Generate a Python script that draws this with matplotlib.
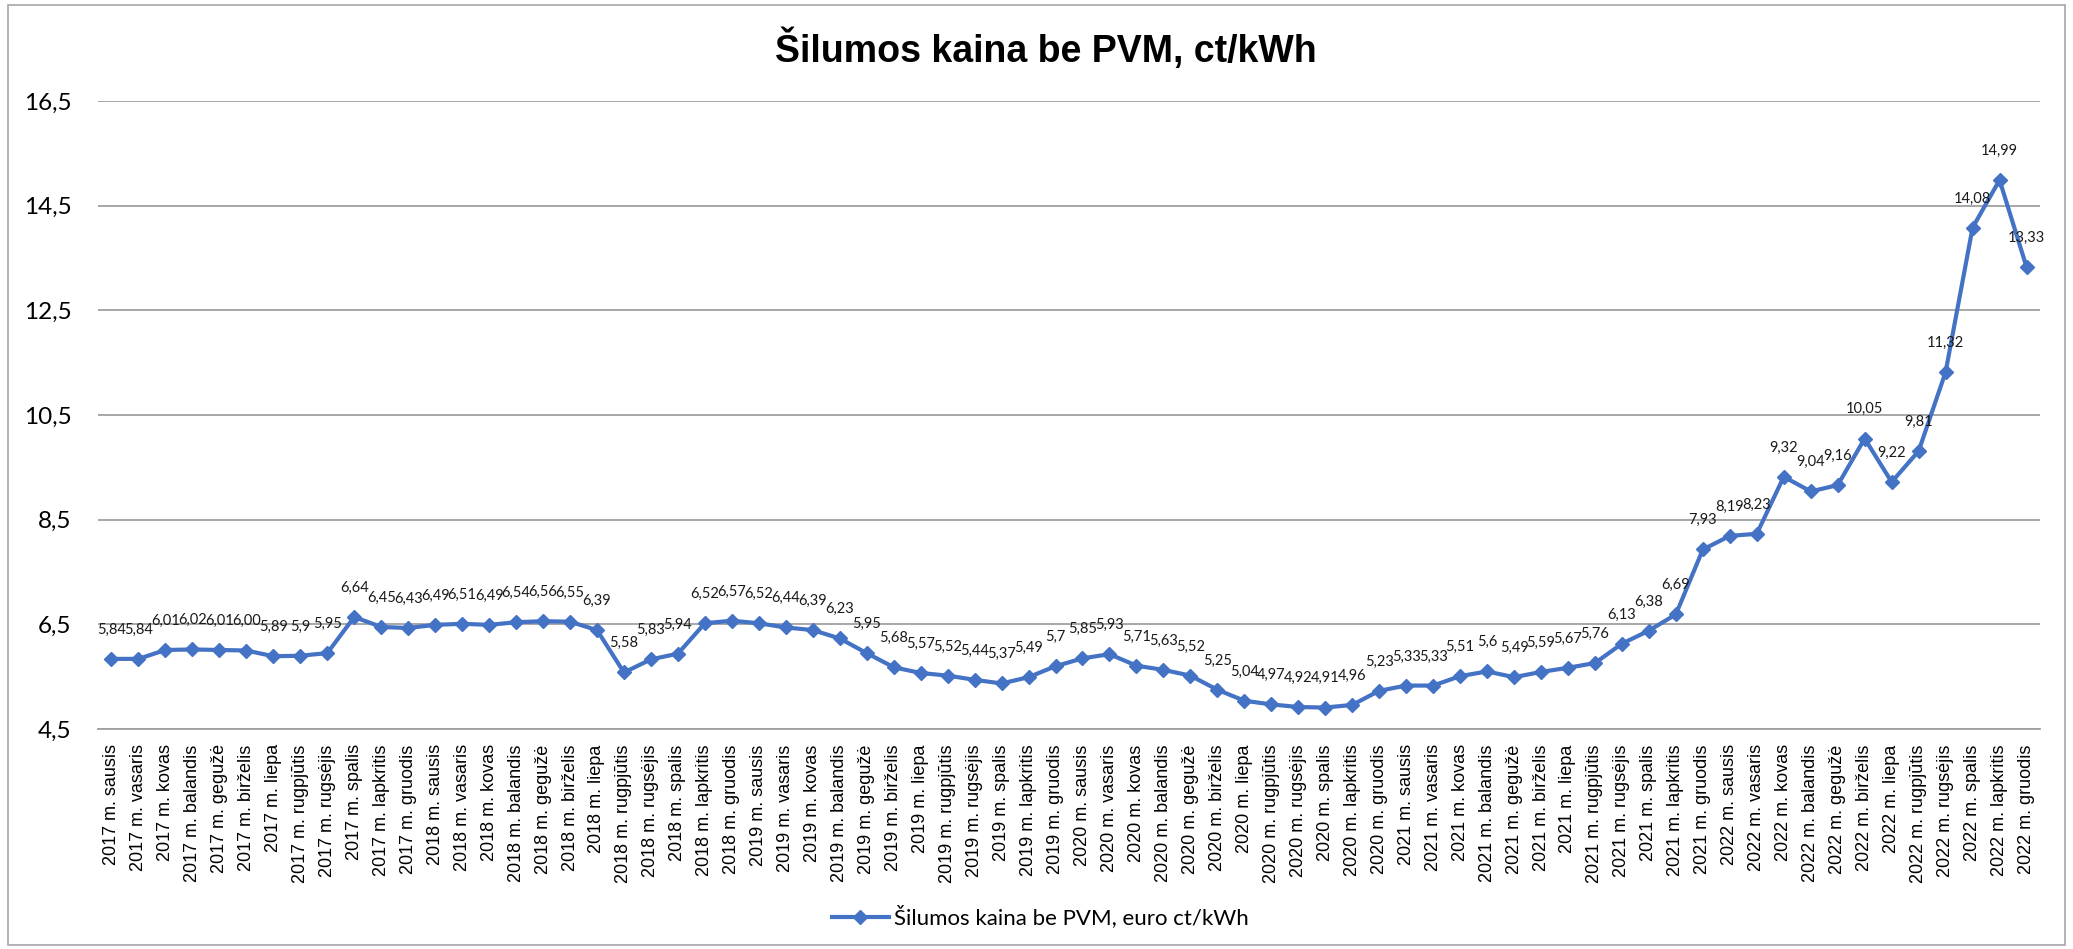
import matplotlib
matplotlib.use("Agg")
import matplotlib.pyplot as plt
from matplotlib.patches import Rectangle
from matplotlib.ticker import FuncFormatter

# Monthly heat price without VAT, as printed in the data labels
years = [2017, 2018, 2019, 2020, 2021, 2022]
months = ["sausis", "vasaris", "kovas", "balandis", "gegužė", "birželis",
          "liepa", "rugpjūtis", "rugsėjis", "spalis", "lapkritis", "gruodis"]

price_2017 = ["5,84", "5,84", "6,01", "6,02", "6,01", "6,00", "5,89", "5,9", "5,95", "6,64", "6,45", "6,43"]
price_2018 = ["6,49", "6,51", "6,49", "6,54", "6,56", "6,55", "6,39", "5,58", "5,83", "5,94", "6,52", "6,57"]
price_2019 = ["6,52", "6,44", "6,39", "6,23", "5,95", "5,68", "5,57", "5,52", "5,44", "5,37", "5,49", "5,7"]
price_2020 = ["5,85", "5,93", "5,71", "5,63", "5,52", "5,25", "5,04", "4,97", "4,92", "4,91", "4,96", "5,23"]
price_2021 = ["5,33", "5,33", "5,51", "5,6", "5,49", "5,59", "5,67", "5,76", "6,13", "6,38", "6,69", "7,93"]
price_2022 = ["8,19", "8,23", "9,32", "9,04", "9,16", "10,05", "9,22", "9,81", "11,32", "14,08", "14,99", "13,33"]

y_ticks = [4.5, 6.5, 8.5, 10.5, 12.5, 14.5, 16.5]

title = "Šilumos kaina be PVM, ct/kWh"
series_name = "Šilumos kaina be PVM, euro ct/kWh"

labels = price_2017 + price_2018 + price_2019 + price_2020 + price_2021 + price_2022
values = [float(s.replace(",", ".")) for s in labels]
categories = [f"{y} m. {m}" for y in years for m in months]
x = list(range(len(categories)))

W, H = 2073, 949
fig = plt.figure(figsize=(W / 100, H / 100), dpi=100)
ax = fig.add_axes([98 / W, 1 - 729 / H, (2040 - 98) / W, (729 - 101) / H])

blue = "#4472C4"
line, = ax.plot(x, values, color=blue, lw=3, marker="D", ms=7.5,
                label=series_name, zorder=3, clip_on=False)

for xi, v, s in zip(x, values, labels):
    ax.annotate(s, (xi, v), xytext=(0, 21), textcoords="offset points",
                ha="center", va="center", fontsize=10.5, family="Lato",
                color="#1a1a1a", zorder=4)

ax.set_xlim(-0.5, len(categories) - 0.5)
ax.set_ylim(y_ticks[0], y_ticks[-1])
ax.set_yticks(y_ticks)
ax.yaxis.set_major_formatter(FuncFormatter(lambda v, p: f"{v:.1f}".replace(".", ",")))
ax.set_xticks(x)
ax.set_xticklabels(categories, rotation=90, fontsize=13, family="Liberation Sans")
ax.tick_params(axis="x", length=0, pad=11)
ax.tick_params(axis="y", length=0, pad=19, labelsize=17.5)
for t in ax.get_yticklabels():
    t.set_family("Lato")

ax.grid(axis="y", color="#A0A0A0", lw=1.3, zorder=0)
for side in ["top", "right", "left"]:
    ax.spines[side].set_visible(False)
ax.spines["bottom"].set_color("#A0A0A0")
ax.spines["bottom"].set_linewidth(1.3)

fig.text(1046 / W, 1 - 49 / H, title, ha="center", va="center",
         fontsize=27, fontweight="bold", family="Liberation Sans")

fig.legend(handles=[line], loc="center", bbox_to_anchor=(1040 / W, 1 - 917 / H),
           frameon=False, prop={"family": "Lato", "size": 16},
           handlelength=2.6, handletextpad=0.2)

fig.patches.append(Rectangle((8 / W, 4 / H), (W - 16) / W, (H - 9) / H,
                             transform=fig.transFigure, fill=False,
                             edgecolor="#A6A6A6", lw=1.2))

fig.savefig("out.png", dpi=100)
